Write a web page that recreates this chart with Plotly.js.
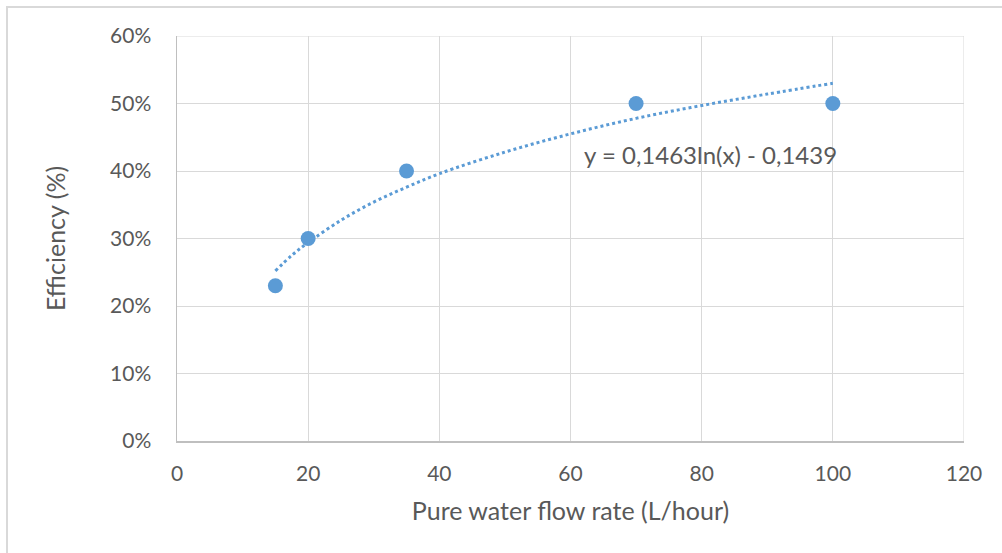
<!DOCTYPE html>
<html>
<head>
<meta charset="utf-8">
<script src="https://cdn.plot.ly/plotly-3.0.1.min.js"></script>
<style>
html,body{margin:0;padding:0;background:#fff;}
#chart{width:1002px;height:553px;position:absolute;left:0;top:0;}
#frame{position:absolute;left:6px;top:6px;width:1100px;height:700px;border-left:2px solid #d9d9d9;border-top:2px solid #d9d9d9;pointer-events:none;}
</style>
</head>
<body>
<div id="chart"></div>
<div id="frame"></div>
<script>
// Measured points
const flowRate = [15, 20, 35, 70, 100];
const efficiency = [0.23, 0.30, 0.40, 0.50, 0.50];

// Logarithmic trendline
const trendX = [15, 17.5, 20, 25, 30, 35, 40, 50, 60, 70, 80, 90, 100];
const trendY = [0.252, 0.275, 0.294, 0.327, 0.354, 0.376, 0.396, 0.428, 0.455, 0.478, 0.497, 0.514, 0.530];

const equationText = 'y = 0,1463ln(x) - 0,1439';
const xTitle = 'Pure water flow rate (L/hour)';
const yTitle = 'Efficiency (%)';

const blue = '#5b9bd5';
const txt = '#595959';
const fontFam = 'Lato, Open Sans, sans-serif';

const data = [
  {
    x: trendX, y: trendY, type: 'scatter', mode: 'lines',
    line: {color: blue, width: 3, dash: 'dot', shape: 'spline'},
    hoverinfo: 'skip', showlegend: false
  },
  {
    x: flowRate, y: efficiency, type: 'scatter', mode: 'markers',
    marker: {color: blue, size: 15},
    showlegend: false
  }
];

const layout = {
  width: 1002, height: 553,
  margin: {l: 177, r: 38, t: 36, b: 112},
  paper_bgcolor: '#fff', plot_bgcolor: '#fff',
  font: {family: fontFam, color: txt, size: 21},
  xaxis: {
    range: [0, 120], dtick: 20, tick0: 0,
    showgrid: true, gridcolor: '#d9d9d9', gridwidth: 1,
    showline: true, linecolor: '#bfbfbf', linewidth: 1.5,
    zeroline: false, mirror: false,
    ticks: 'outside', ticklen: 13, tickcolor: 'rgba(0,0,0,0)',
    tickfont: {size: 21, color: txt},
    title: {text: xTitle, font: {size: 25, color: txt}, standoff: 19}
  },
  yaxis: {
    range: [0, 0.6], dtick: 0.1, tick0: 0, tickformat: '.0%',
    showgrid: true, gridcolor: '#d9d9d9', gridwidth: 1,
    showline: true, linecolor: '#bfbfbf', linewidth: 1.5,
    zeroline: false,
    ticks: 'outside', ticklen: 20, tickcolor: 'rgba(0,0,0,0)',
    tickfont: {size: 21, color: txt},
    title: {text: yTitle, font: {size: 25, color: txt}, standoff: 37}
  },
  shapes: [
    {type: 'line', xref: 'x', yref: 'y', x0: 120, x1: 120, y0: 0, y1: 0.6,
     line: {color: '#d9d9d9', width: 1}},
    {type: 'line', xref: 'x', yref: 'y', x0: 0, x1: 120, y0: 0.6, y1: 0.6,
     line: {color: '#d9d9d9', width: 1}}
  ],
  annotations: [
    {x: 81.4, y: 0.425, xref: 'x', yref: 'y', text: equationText, showarrow: false,
     font: {size: 24, color: txt, family: fontFam}}
  ]
};

Plotly.newPlot('chart', data, layout, {displayModeBar: false, staticPlot: true});
</script>
</body>
</html>
